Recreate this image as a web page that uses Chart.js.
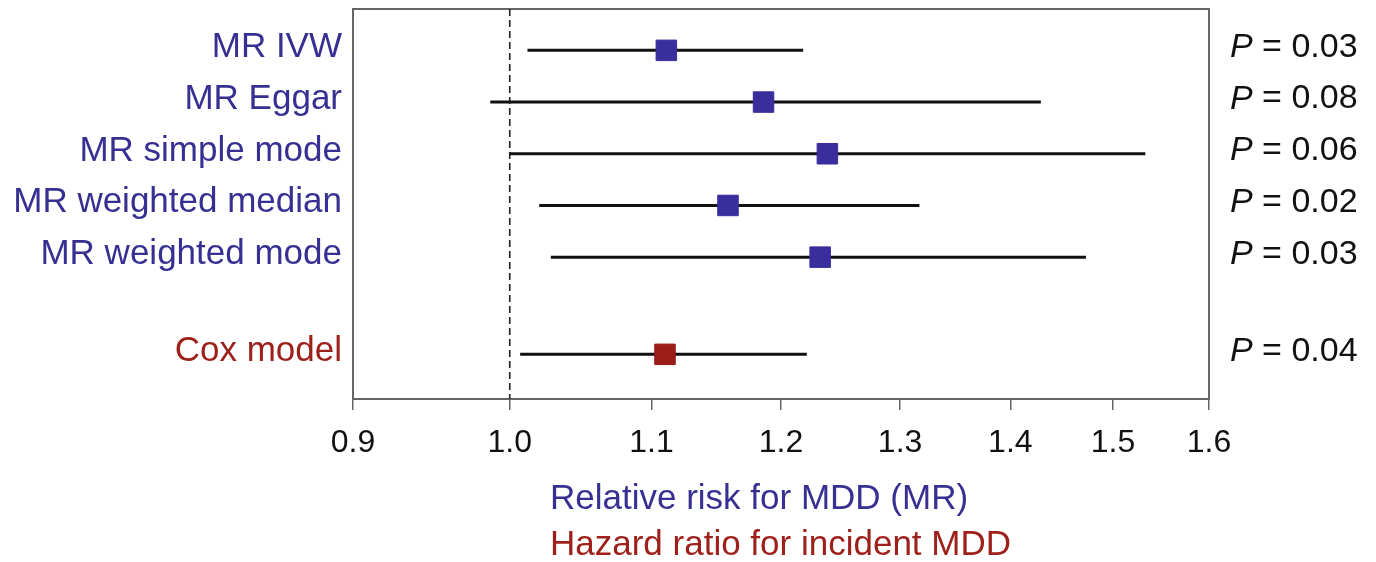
<!DOCTYPE html>
<html>
<head>
<meta charset="utf-8">
<script src="https://cdn.jsdelivr.net/npm/chart.js@4.4.1/dist/chart.umd.min.js"></script>
<style>
  html, body { margin: 0; padding: 0; background: #fff; }
  #wrap { width: 1376px; height: 562px; }
</style>
</head>
<body>
<div id="wrap"><canvas id="forest"></canvas></div>
<script>
// Rows, top to bottom
const methods = ['MR IVW', 'MR Eggar', 'MR simple mode', 'MR weighted median', 'MR weighted mode', 'Cox model'];
const rowPos = [1, 2, 3, 4, 5, 6.88];
const estimates = [1.111, 1.186, 1.238, 1.158, 1.232, 1.110];
const lowerCI = [1.012, 0.987, 1.000, 1.020, 1.028, 1.007];
const upperCI = [1.218, 1.429, 1.533, 1.317, 1.473, 1.221];
const pValues = ['0.03', '0.08', '0.06', '0.02', '0.03', '0.04'];
const xTicks = [0.9, 1.0, 1.1, 1.2, 1.3, 1.4, 1.5, 1.6];
const titleLines = ['Relative risk for MDD (MR)', 'Hazard ratio for incident MDD'];

const BLUE = '#372f92';
const RED = '#9e201a';
const FONT = '"Liberation Sans", Arial, Helvetica, sans-serif';
const rowColor = (i) => (methods[i] === 'Cox model' ? RED : BLUE);

// one dataset per confidence interval
const ciSets = methods.map((m, i) => ({
    type: 'line',
    data: [{ x: lowerCI[i], y: rowPos[i] }, { x: upperCI[i], y: rowPos[i] }],
    borderColor: '#111',
    borderWidth: 3,
    pointRadius: 0,
    order: 2,
}));

const refLine = {
    type: 'line',
    data: [{ x: 1.0, y: 0.2 }, { x: 1.0, y: 7.744 }],
    borderColor: '#222',
    borderWidth: 1.6,
    borderDash: [7, 4],
    pointRadius: 0,
    order: 3,
};

const points = {
    type: 'scatter',
    data: estimates.map((v, i) => ({ x: v, y: rowPos[i] })),
    pointStyle: 'rect',
    pointRadius: 14.5,
    backgroundColor: estimates.map((v, i) => (i === 5 ? '#9b1d17' : '#3a2d9c')),
    borderColor: estimates.map((v, i) => (i === 5 ? '#9b1d17' : '#3a2d9c')),
    borderWidth: 1,
    order: 1,
};

// no extra padding for labels that overhang the axis ends
const noPad = (s) => { s.paddingTop = 0; s.paddingBottom = 0; s.paddingLeft = 0; s.paddingRight = 0; };

// frame, p values and two-colour axis title
const extras = {
    id: 'extras',
    beforeDatasetsDraw(chart) {
        const { ctx, chartArea: a } = chart;
        ctx.save();
        ctx.strokeStyle = '#666';
        ctx.lineWidth = 2;
        ctx.strokeRect(a.left, a.top, a.right - a.left, a.bottom - a.top);
        ctx.restore();
    },
    afterDraw(chart) {
        const { ctx, chartArea: a } = chart;
        const y = chart.scales.y;
        ctx.save();
        ctx.textBaseline = 'middle';
        ctx.fillStyle = '#111';
        pValues.forEach((p, i) => {
            const py = y.getPixelForValue(rowPos[i]) - 3;
            const px = a.right + 21;
            ctx.font = 'italic 34px ' + FONT;
            ctx.fillText('P', px, py);
            const w = ctx.measureText('P').width;
            ctx.font = '34px ' + FONT;
            ctx.fillText(' = ' + p, px + w, py);
        });
        ctx.font = '35px ' + FONT;
        ctx.fillStyle = BLUE;
        ctx.fillText(titleLines[0], 550, 499);
        ctx.fillStyle = RED;
        ctx.fillText(titleLines[1], 550, 545);
        ctx.restore();
    },
};

new Chart(document.getElementById('forest'), {
    data: { datasets: [refLine, ...ciSets, points] },
    options: {
        responsive: true,
        maintainAspectRatio: false,
        animation: false,
        layout: { autoPadding: false, padding: { top: 9, left: 0, right: 0, bottom: 0 } },
        plugins: { legend: { display: false }, tooltip: { enabled: false } },
        scales: {
            x: {
                type: 'logarithmic',
                min: 0.9,
                max: 1.6,
                afterBuildTicks: (s) => { s.ticks = xTicks.map((v) => ({ value: v })); },
                afterFit: (s) => { s.height = 163; noPad(s); },
                grid: { drawOnChartArea: false, drawTicks: true, tickLength: 11, color: '#666', lineWidth: 1.5 },
                border: { display: false },
                ticks: {
                    autoSkip: false,
                    maxRotation: 0,
                    padding: 14,
                    color: '#111',
                    font: { family: FONT, size: 32 },
                    callback: (v) => Number(v).toFixed(1),
                },
            },
            y: {
                type: 'linear',
                reverse: true,
                min: 0.2,
                max: 7.744,
                afterBuildTicks: (s) => { s.ticks = rowPos.map((v) => ({ value: v - 0.055 })); },
                afterFit: (s) => { s.width = 353; noPad(s); },
                grid: { display: false },
                border: { display: false },
                ticks: {
                    autoSkip: false,
                    padding: 3,
                    color: (c) => rowColor(c.index),
                    font: { family: FONT, size: 35 },
                    callback: (v, i) => methods[i],
                },
            },
            yRight: {
                type: 'linear',
                position: 'right',
                reverse: true,
                min: 0.2,
                max: 7.744,
                afterFit: (s) => { s.width = 167; noPad(s); },
                grid: { display: false },
                border: { display: false },
                ticks: { display: false },
            },
        },
    },
    plugins: [extras],
});
</script>
</body>
</html>
